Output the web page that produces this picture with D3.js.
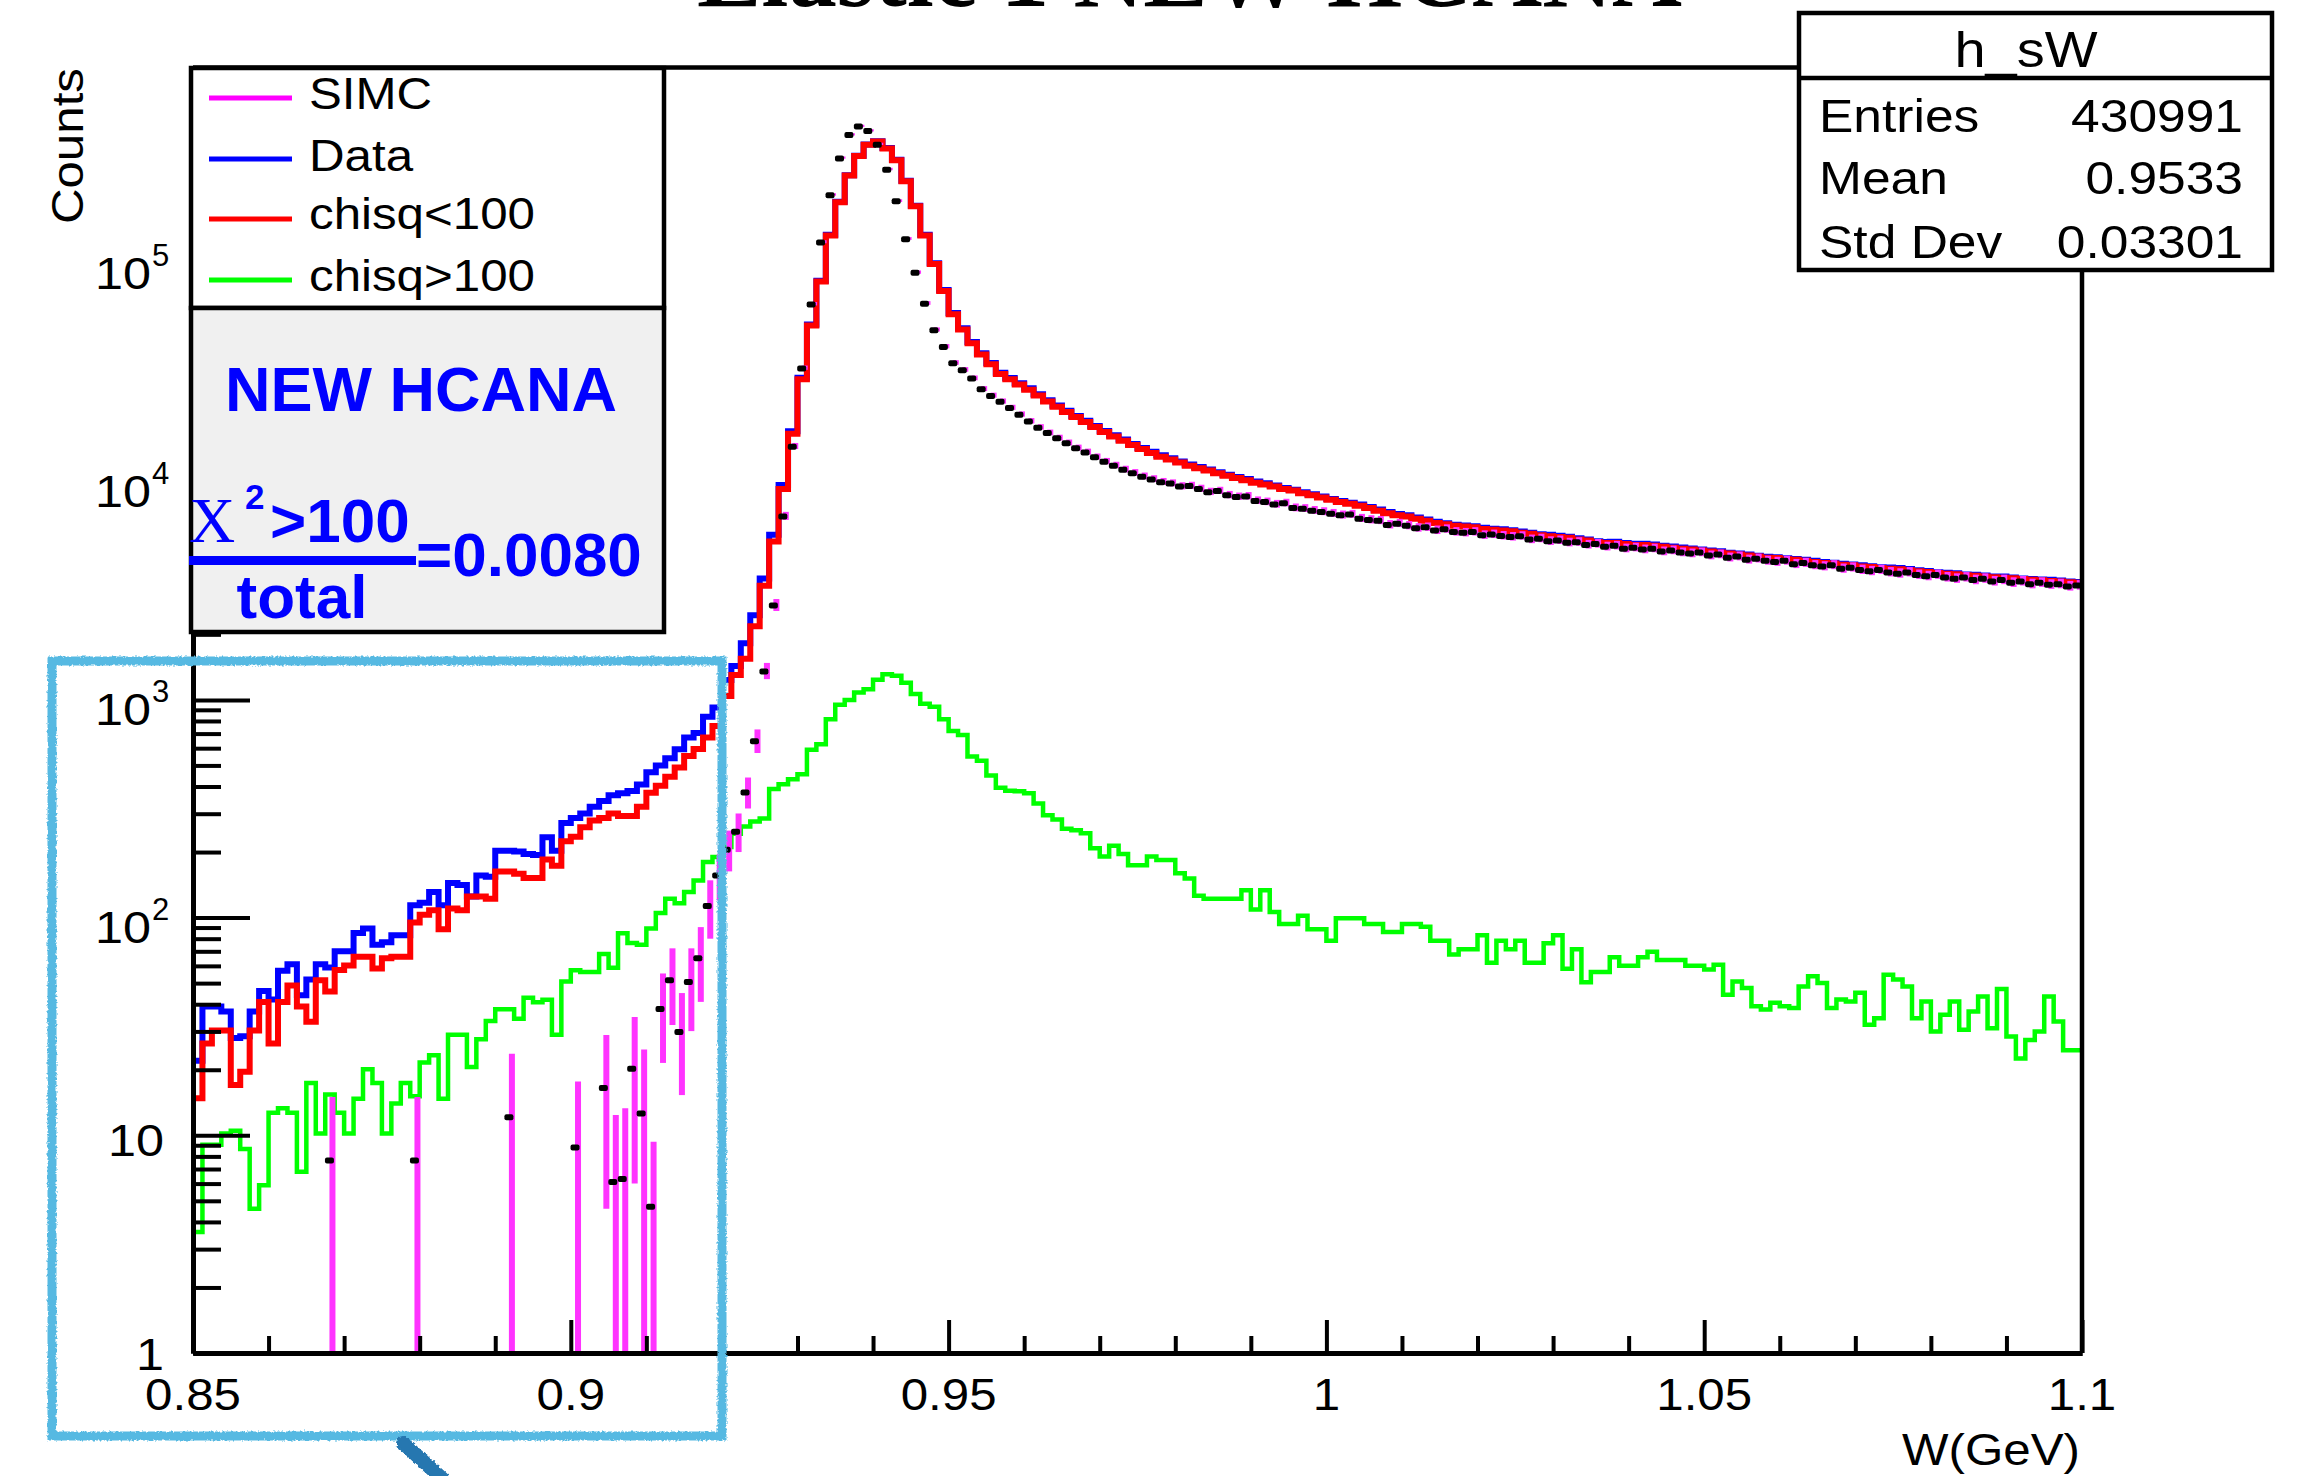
<!DOCTYPE html>
<html><head><meta charset="utf-8">
<script src="https://cdn.jsdelivr.net/npm/d3@7"></script>
<style>body{margin:0;background:#fff}svg{display:block}</style>
</head><body>
<script>
// ---------------- data ----------------
const xMin = 0.85, xMax = 1.1, nBins = 200;
const yTop = 8.03e5;

// blue: Data
const dataCounts = [
22,39,39,37,28,28.5,37,46,42,57,
61,44,52,61,59,70,70,85,89,75,
77,83,83,114,117,131,114,144,141,125,
156,154,203,203,201,196,194,234,203,272,
287,301,323,343,365,372,381,409,465,500,
539,594,672,705,836,922,1235,1430,1820,2450,
3610,5740,9710,17140,30140,53000,84200,136800,194000,257000,
316100,356100,368200,342300,302300,242200,186100,136900,101400,76300,
59800,50900,44000,39100,35250,31790,30090,28480,26980,25330,
23790,22490,21260,20150,19150,18110,17190,16410,15700,14970,
14370,13790,13280,12880,12460,12050,11730,11420,11120,10820,
10570,10330,10060,9880,9660,9390,9240,9000,8790,8590,
8380,8200,8050,7900,7690,7490,7290,7140,7040,6890,
6740,6580,6480,6370,6320,6270,6180,6110,6080,6020,
5930,5860,5760,5730,5680,5610,5520,5450,5360,5310,
5320,5260,5210,5220,5170,5110,5060,5010,4960,4910,
4860,4810,4740,4700,4650,4590,4540,4520,4470,4440,
4400,4350,4300,4270,4220,4190,4150,4110,4070,4060,
4030,3990,3940,3910,3860,3840,3820,3770,3760,3730,
3690,3690,3650,3610,3590,3570,3560,3530,3500,3480];

// red: chisq<100
const chisqLow = [
14.8,26.4,30.3,30.3,17,19.6,30.3,41,26.4,41,
48.7,39,33.2,51.6,45.8,57.4,60.3,66,66,58.4,
65,66,66,95,103,108,88.5,110,108,125,
125,122,163,163,159,152,152,185,173,224,
235,260,279,287,301,293,293,323,374,403,
444,489,553,595,672,759,1043,1300,1545,2180,
3340,5340,9310,16700,29700,52400,83600,136000,193000,256000,
315000,355000,367000,341000,301000,241000,185000,136000,100500,75500,
59100,50200,43500,38600,34800,31400,29700,28100,26600,25000,
23500,22200,21000,19900,18900,17900,17000,16200,15500,14800,
14200,13600,13100,12700,12300,11900,11600,11300,11000,10700,
10450,10200,9950,9750,9550,9300,9150,8900,8700,8500,
8300,8100,7950,7800,7600,7400,7200,7050,6950,6800,
6650,6500,6400,6300,6250,6200,6100,6050,6000,5950,
5850,5800,5700,5650,5600,5550,5450,5400,5300,5250,
5250,5200,5150,5150,5100,5050,5000,4950,4900,4850,
4800,4750,4700,4650,4600,4550,4500,4480,4430,4400,
4350,4300,4250,4230,4180,4150,4100,4080,4030,4000,
3980,3940,3900,3870,3830,3800,3780,3740,3720,3690,
3660,3640,3620,3590,3560,3540,3520,3500,3470,3450];

// green: chisq>100
const chisqHigh = [
3.6,9.05,9.05,10.2,10.5,8.65,4.6,5.9,12.7,13.3,
12.7,6.8,17.4,10.2,15.4,12.7,10.2,14.7,20.1,17.4,
10.2,14,17.4,15.1,21.6,23.3,14.7,29,29,20.6,
27.6,33.5,37.9,37.9,34.3,42.8,40.8,41.9,29,50.8,
57.3,56.3,56.3,68.1,58.8,84.8,76.5,75,89,105,
122,116.5,131,148,180,190,211,243,262,276,
285,390,410,432,455,590,625,815,950,1000,
1080,1120,1236,1310,1290,1200,1065,960,930,815,
720,690,550,525,450,395,382,380,372,334,
295,282,256,252,244,208,191,214,196,174,
174,191,184,184,160,151,126,122,122,122,
122,133.5,109,133.5,106,93.5,93.5,102,88.3,88.3,
78.2,99.3,99.3,99.3,93.5,93.5,85.8,85.8,93.5,93.5,
90.7,78.2,78.2,67.7,71.5,71.5,83,62,78.2,71.5,
78.2,62,62,76.3,83,58.2,71.5,50.5,56.3,56.3,
65.8,60.1,60.1,65.8,69.6,63.9,63.9,63.9,60.1,60.1,
57.7,60.8,44.2,50.9,47.5,39.1,37.8,40.6,39.1,38.4,
48.3,53.7,50.1,38.4,42,41.2,45.1,32.2,34.5,54.7,
51.9,48.3,34.5,41.2,30,35.8,41.2,30.5,37,43.4,
31,47,28.4,22.5,27.4,30,43.4,33.3,24.6,24.6];

// SIMC points (null = empty bin)
const simcCounts = [
null,null,null,null,null,null,null,null,null,null,
null,null,null,null,7.65,null,null,null,null,null,
null,null,null,7.65,null,null,null,null,null,null,
null,null,null,12.1,null,null,null,null,null,null,
8.8,null,null,16.5,6.1,6.3,20.2,12.6,4.7,38,
51.6,29.8,50.6,65,113,156,205,248,375,645,
1350,2710,6950,14550,33300,65500,126000,208000,307000,393000,
430000,410000,355000,272000,195000,130500,91500,66000,49900,41800,
35200,32700,29900,26700,24900,23400,21900,20400,19000,17800,
16800,15900,15100,14300,13700,13000,12400,11900,11400,11000,
10600,10300,10000,9850,9550,9600,9300,9000,9100,8700,
8550,8600,8200,8100,7900,8000,7600,7550,7400,7300,
7170,7050,7100,6800,6700,6650,6360,6450,6300,6150,
6200,6000,6080,5900,5850,5900,5700,5750,5660,5600,
5650,5450,5500,5350,5400,5270,5300,5150,5200,5050,
5100,4950,5000,4900,4950,4800,4850,4750,4700,4750,
4600,4650,4500,4550,4400,4450,4350,4300,4350,4200,
4250,4150,4100,4150,4000,4050,3950,3900,3950,3850,
3800,3850,3750,3700,3750,3650,3600,3650,3550,3600,
3500,3550,3450,3500,3400,3450,3380,3400,3320,3350];

const simcErrors = [
null,null,null,null,null,null,null,null,null,null,
null,null,null,null,7.1,null,null,null,null,null,
null,null,null,7.1,null,null,null,null,null,null,
null,null,null,11.2,null,null,null,null,null,null,
8.6,null,null,11.9,6.1,6.8,14.2,11.8,4.5,16.5,
19.5,14.5,20.5,24,33,36,42,48,58,75,
105,150,240,350,500,700,1000,1300,1500,1700,
1800,1750,1600,1450,1250,1050,900,780,680,620,
570,540,520,490,470,460,420,410,390,380,
370,360,350,345,335,330,320,315,310,305,
300,295,290,288,285,285,280,278,275,272,
270,268,265,262,260,258,255,252,250,248,
245,242,240,238,236,235,232,230,228,226,
225,222,220,218,216,215,214,212,210,208,
206,205,204,202,200,199,198,196,195,194,
192,190,189,188,186,185,184,182,181,180,
179,178,177,176,175,174,173,172,171,170,
169,168,167,166,165,164,163,162,161,160,
160,159,158,157,156,155,154,153,152,151,
150,150,149,148,147,146,146,145,144,143];

const xTickValues = [0.85, 0.9, 0.95, 1, 1.05, 1.1];
const xTickLabels = ["0.85", "0.9", "0.95", "1", "1.05", "1.1"];
const yTickValues = [1, 10, 100, 1000, 10000, 100000];
const legendLabels = ["SIMC", "Data", "chisq<100", "chisq>100"];
const legendColors = ["#ff00ff", "#0000ff", "#ff0000", "#00ff00"];
const statsTitle = "h_sW";
const statsLabels = ["Entries", "Mean", "Std Dev"];
const statsValues = ["430991", "0.9533", "0.03301"];
const titleText = "Elastic 1 NEW HCANA";
const xTitle = "W(GeV)";
const yTitle = "Counts";

// ---------------- drawing ----------------
const W = 2301, H = 1476;
const SANS = "'Liberation Sans', Arial, Helvetica, sans-serif";
const SERIF = "'Liberation Serif', 'Times New Roman', serif";
const F = {left: 193, right: 2082, top: 67.5, bottom: 1353};

const svg = d3.select("body").append("svg").attr("width", W).attr("height", H)
  .style("background", "#fff");

const x = d3.scaleLinear().domain([xMin, xMax]).range([F.left, F.right]);
const y = d3.scaleLog().domain([1, yTop]).range([F.bottom, F.top]);
const binW = (xMax - xMin) / nBins;

const defs = svg.append("defs");
defs.append("clipPath").attr("id", "plotclip")
  .append("rect").attr("x", F.left).attr("y", F.top)
  .attr("width", F.right - F.left).attr("height", F.bottom - F.top);
const rough = defs.append("filter").attr("id", "rough")
  .attr("x", "-5%").attr("y", "-5%").attr("width", "110%").attr("height", "110%");
rough.append("feTurbulence").attr("type", "fractalNoise").attr("baseFrequency", 0.45)
  .attr("numOctaves", 2).attr("seed", 3).attr("result", "noise");
rough.append("feDisplacementMap").attr("in", "SourceGraphic").attr("in2", "noise")
  .attr("scale", 4).attr("xChannelSelector", "R").attr("yChannelSelector", "G");

function addText(str, px, py, o = {}) {
  const sx = o.sx === undefined ? 1.12 : o.sx;
  return svg.append("text")
    .attr("transform", `translate(${px},${py})${o.rotate ? ` rotate(${o.rotate})` : ""} scale(${sx},1)`)
    .attr("font-family", o.family || SANS)
    .attr("font-size", o.size || 45)
    .attr("font-weight", o.weight || "normal")
    .attr("fill", o.fill || "#000")
    .attr("text-anchor", o.anchor || "start")
    .text(str);
}

// title (mostly above the picture)
svg.append("text").attr("x", 697).attr("y", 6)
  .attr("font-family", SERIF).attr("font-size", 100).attr("font-weight", "bold")
  .attr("textLength", 985).attr("lengthAdjust", "spacingAndGlyphs")
  .attr("fill", "#000").text(titleText);

// histograms
const plot = svg.append("g").attr("clip-path", "url(#plotclip)");
function histPath(vals) {
  const pts = vals.map((v, i) => ({e: xMin + i * binW, v}));
  pts.push({e: xMax, v: vals[vals.length - 1]});
  return d3.line().x(d => x(d.e)).y(d => y(Math.max(d.v, 0.3)))
    .curve(d3.curveStepAfter)(pts);
}
plot.append("path").attr("d", histPath(dataCounts)).attr("fill", "none")
  .attr("stroke", "#0000ff").attr("stroke-width", 6);
plot.append("path").attr("d", histPath(chisqLow)).attr("fill", "none")
  .attr("stroke", "#ff0000").attr("stroke-width", 6);
plot.append("path").attr("d", histPath(chisqHigh)).attr("fill", "none")
  .attr("stroke", "#00ff00").attr("stroke-width", 4.5);

// SIMC points with error bars
const simc = simcCounts.map((v, i) => ({i, v, err: simcErrors[i]})).filter(d => d.v !== null);
plot.selectAll("line.err").data(simc).enter().append("line")
  .attr("x1", d => x(xMin + (d.i + 0.5) * binW) + 2.5)
  .attr("x2", d => x(xMin + (d.i + 0.5) * binW) + 2.5)
  .attr("y1", d => y(Math.max(d.v - d.err, 0.3)))
  .attr("y2", d => y(d.v + d.err) - 1.5)
  .attr("stroke", "#ff33ff").attr("stroke-width", 6);
plot.selectAll("rect.pt").data(simc).enter().append("rect")
  .attr("x", d => x(xMin + (d.i + 0.5) * binW) - 5)
  .attr("y", d => y(d.v) - 3)
  .attr("width", 9).attr("height", 6).attr("rx", 2)
  .attr("fill", "#000");

// frame
svg.append("line").attr("x1", F.left).attr("x2", F.right).attr("y1", F.top).attr("y2", F.top)
  .attr("stroke", "#000").attr("stroke-width", 4.5);
svg.append("line").attr("x1", F.right).attr("x2", F.right).attr("y1", F.top).attr("y2", F.bottom)
  .attr("stroke", "#000").attr("stroke-width", 4.5);

// x axis
const xMinor = d3.range(1, 25).map(k => xMin + k * 0.01).filter(v => Math.abs((v - xMin) / 0.05 - Math.round((v - xMin) / 0.05)) > 1e-6);
const gx = svg.append("g").attr("transform", `translate(0,${F.bottom})`);
gx.call(d3.axisBottom(x).tickValues(xMinor).tickSize(-17).tickSizeOuter(0).tickFormat(""));
const gx2 = svg.append("g").attr("transform", `translate(0,${F.bottom})`);
gx2.call(d3.axisBottom(x).tickValues(xTickValues).tickSize(-33).tickSizeOuter(0).tickFormat(""));
// y axis
const yMinor = [];
for (let k = 0; k < 6; k++) for (let m = 2; m <= 9; m++) { const v = m * Math.pow(10, k); if (v < yTop) yMinor.push(v); }
const gy = svg.append("g").attr("transform", `translate(${F.left},0)`);
gy.call(d3.axisLeft(y).tickValues(yMinor).tickSize(-28).tickSizeOuter(0).tickFormat(""));
const gy2 = svg.append("g").attr("transform", `translate(${F.left},0)`);
gy2.call(d3.axisLeft(y).tickValues(yTickValues).tickSize(-57).tickSizeOuter(0).tickFormat(""));
svg.selectAll(".domain").attr("stroke", "#000").attr("stroke-width", 5);
svg.selectAll(".tick line").attr("stroke", "#000").attr("stroke-width", 4);

// x tick labels
xTickValues.forEach((v, i) => addText(xTickLabels[i], x(v), 1410, {size: 44, anchor: "middle"}));
// y tick labels
yTickValues.forEach(v => {
  const k = Math.round(Math.log10(v));
  const py = y(v);
  if (k === 0) addText("1", 164, py + 17, {size: 45, anchor: "end"});
  else if (k === 1) addText("10", 164, py + 21, {size: 45, anchor: "end"});
  else {
    addText("10", 151, py + 25, {size: 45, anchor: "end"});
    addText(String(k), 152, py + 2, {size: 31, anchor: "start", sx: 1});
  }
});
// axis titles
addText(xTitle, 2080, 1465, {size: 44, anchor: "end"});
addText(yTitle, 83, 68, {size: 44, anchor: "end", rotate: -90});

// legend box
const LB = {x0: 191, x1: 664, y0: 68, y1: 308, y2: 632};
svg.append("rect").attr("x", LB.x0).attr("y", LB.y0).attr("width", LB.x1 - LB.x0).attr("height", LB.y1 - LB.y0)
  .attr("fill", "#fff").attr("stroke", "#000").attr("stroke-width", 4.5);
const legY = [98, 159, 219, 280], legBase = [109, 171, 229, 291];
legendLabels.forEach((lab, i) => {
  svg.append("line").attr("x1", 209).attr("x2", 292).attr("y1", legY[i]).attr("y2", legY[i])
    .attr("stroke", legendColors[i]).attr("stroke-width", 5);
  addText(lab, 309, legBase[i], {size: 44});
});
// NEW HCANA box
svg.append("rect").attr("x", LB.x0).attr("y", LB.y1).attr("width", LB.x1 - LB.x0).attr("height", LB.y2 - LB.y1)
  .attr("fill", "#f0f0f0").attr("stroke", "#000").attr("stroke-width", 4.5);
const BLUE = "#0000ff";
addText("NEW HCANA", 421, 411, {size: 63, weight: "bold", anchor: "middle", fill: BLUE, sx: 1});
addText("X", 189, 542, {size: 64, family: SERIF, fill: BLUE, sx: 1});
addText("2", 245, 509, {size: 35, weight: "bold", fill: BLUE, sx: 1});
addText(">100", 270, 542, {size: 62, weight: "bold", fill: BLUE, sx: 1});
svg.append("rect").attr("x", 189).attr("y", 556).attr("width", 227).attr("height", 9).attr("fill", BLUE);
addText("=0.0080", 416, 576, {size: 62, weight: "bold", fill: BLUE, sx: 1});
addText("total", 302, 618, {size: 62, weight: "bold", fill: BLUE, anchor: "middle", sx: 1});

// stats box
const SB = {x0: 1799, x1: 2272, y0: 13, y1: 270, ys: 78};
svg.append("rect").attr("x", SB.x0).attr("y", SB.y0).attr("width", SB.x1 - SB.x0).attr("height", SB.y1 - SB.y0)
  .attr("fill", "#fff").attr("stroke", "#000").attr("stroke-width", 4.5);
svg.append("line").attr("x1", SB.x0).attr("x2", SB.x1).attr("y1", SB.ys).attr("y2", SB.ys)
  .attr("stroke", "#000").attr("stroke-width", 4.5);
addText(statsTitle, 2026, 67, {size: 50, anchor: "middle"});
const rowBase = [132, 194, 258];
statsLabels.forEach((lab, i) => {
  addText(lab, 1819, rowBase[i], {size: 46});
  addText(statsValues[i], 2243, rowBase[i], {size: 46, anchor: "end"});
});

// hand-drawn annotation
const ann = svg.append("g").attr("filter", "url(#rough)");
ann.append("rect").attr("x", 52).attr("y", 661).attr("width", 670).attr("height", 775)
  .attr("fill", "none").attr("stroke", "#56b9e2").attr("stroke-width", 9);
ann.append("line").attr("x1", 403).attr("y1", 1443).attr("x2", 446).attr("y2", 1482)
  .attr("stroke", "#2577b0").attr("stroke-width", 14).attr("stroke-linecap", "round");
</script>
</body></html>
